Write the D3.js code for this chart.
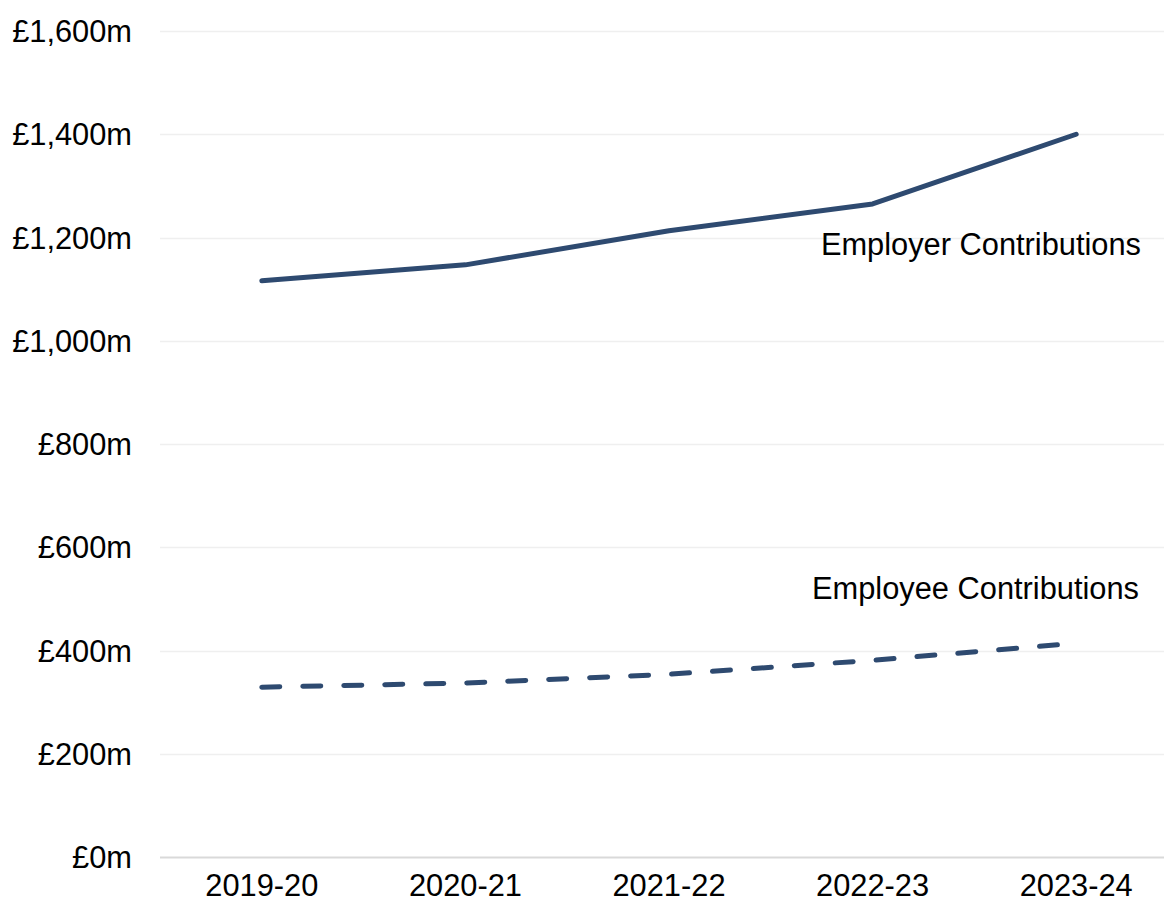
<!DOCTYPE html>
<html>
<head>
<meta charset="utf-8">
<script src="https://cdn.jsdelivr.net/npm/d3@7"></script>
<style>
  html, body { margin: 0; padding: 0; background: #fff; }
  svg { display: block; font-family: "Liberation Sans", Arial, sans-serif; }
</style>
</head>
<body>
<svg id="chart" width="1164" height="903"></svg>
<script>
const categories = ["2019-20", "2020-21", "2021-22", "2022-23", "2023-24"];
const employer = [1116, 1147, 1213, 1265, 1400];
const employee = [329, 337, 354, 381, 414];
const yTicks = [0, 200, 400, 600, 800, 1000, 1200, 1400, 1600];
const seriesNames = ["Employer Contributions", "Employee Contributions"];

(function () {
const svg = d3.select("#chart");
const W = 1164;
const mLeft = 160, mRight = 1178, mTop = 31, mBottom = 857;
const lineColor = "#2e4a70";
const fs = 30.8;

const x = d3.scalePoint().domain(categories).range([mLeft, mRight]).padding(0.5);
const y = d3.scaleLinear().domain([0, 1600]).range([mBottom, mTop]);

// gridlines
svg.append("g").selectAll("line").data(yTicks).join("line")
  .attr("x1", mLeft).attr("x2", W)
  .attr("y1", d => Math.round(y(d)) + 0.5).attr("y2", d => Math.round(y(d)) + 0.5)
  .attr("stroke", d => d === 0 ? "#d9d9d9" : "#efefef")
  .attr("stroke-width", d => d === 0 ? 2 : 1.5);

// y axis labels
svg.append("g").selectAll("text").data(yTicks).join("text")
  .attr("x", 132).attr("y", d => y(d) + 11)
  .attr("text-anchor", "end")
  .attr("font-size", fs).attr("fill", "#000")
  .text(d => "£" + d3.format(",")(d) + "m");

// x axis labels
svg.append("g").selectAll("text").data(categories).join("text")
  .attr("x", d => x(d)).attr("y", 896)
  .attr("text-anchor", "middle")
  .attr("font-size", fs).attr("fill", "#000")
  .text(d => d);

const line = d3.line().x((d, i) => x(categories[i])).y(d => y(d));

svg.append("path").datum(employer)
  .attr("d", line).attr("fill", "none")
  .attr("stroke", lineColor).attr("stroke-width", 5)
  .attr("stroke-linecap", "round").attr("stroke-linejoin", "round");

svg.append("path").datum(employee)
  .attr("d", line).attr("fill", "none")
  .attr("stroke", lineColor).attr("stroke-width", 5)
  .attr("stroke-linecap", "round").attr("stroke-linejoin", "round")
  .attr("stroke-dasharray", "18,23");

// annotations
svg.append("text").attr("x", 1141).attr("y", 255)
  .attr("text-anchor", "end").attr("font-size", fs).attr("fill", "#000")
  .text(seriesNames[0]);
svg.append("text").attr("x", 1139).attr("y", 599)
  .attr("text-anchor", "end").attr("font-size", fs).attr("fill", "#000")
  .text(seriesNames[1]);
})();
</script>
</body>
</html>
